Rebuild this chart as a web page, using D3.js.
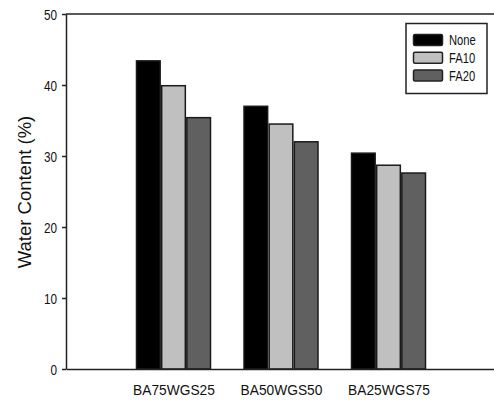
<!DOCTYPE html>
<html>
<head>
<meta charset="utf-8">
<script src="https://cdn.jsdelivr.net/npm/d3@7/dist/d3.min.js"></script>
<style>
  html, body { margin: 0; padding: 0; background: #fff; }
  svg { display: block; font-family: "Liberation Sans", Arial, sans-serif; }
</style>
</head>
<body>
<svg id="chart" width="494" height="400"></svg>
<script>
// Mix designs on the x axis
const categories = ["BA75WGS25", "BA50WGS50", "BA25WGS75"];
// Fly-ash replacement level (legend entries)
const seriesNames = ["None", "FA10", "FA20"];
const seriesColors = ["#000000", "#c0c0c0", "#606060"];
// Water content (%) per mix, one array per series
const valuesNone = [43.4, 37.0, 30.4];
const valuesFA10 = [39.9, 34.5, 28.7];
const valuesFA20 = [35.4, 32.0, 27.6];
const seriesValues = [valuesNone, valuesFA10, valuesFA20];
const yTicks = [0, 10, 20, 30, 40, 50];
const yTitle = "Water Content (%)";

const svg = d3.select("#chart");
const plotLeft = 66, plotRight = 496, plotTop = 14, plotBottom = 369;

const y = d3.scaleLinear().domain([0, 50]).range([plotBottom, plotTop]);
// categories sit at 1, 2, 3 on a 0..4 positional axis
const x = d3.scaleLinear().domain([0, categories.length + 1]).range([plotLeft, plotRight]);
const xs = d3.scaleBand().domain(seriesNames).range([-37, 37]).paddingInner(0.06);

// bars
const groups = svg.append("g").selectAll("g")
  .data(categories)
  .join("g")
  .attr("transform", (d, i) => `translate(${x(i + 1)},0)`);

groups.selectAll("rect")
  .data((d, i) => seriesNames.map((s, k) => ({ s, k, v: seriesValues[k][i] })))
  .join("rect")
  .attr("x", d => xs(d.s))
  .attr("width", xs.bandwidth())
  .attr("y", d => y(d.v))
  .attr("height", d => y(0) - y(d.v))
  .attr("fill", d => seriesColors[d.k])
  .attr("stroke", "#1a1a1a")
  .attr("stroke-width", 1.5);

// frame line along the top, running to the edge
svg.append("line").attr("x1", plotLeft).attr("x2", plotRight).attr("y1", plotTop).attr("y2", plotTop)
  .attr("stroke", "#222").attr("stroke-width", 1.5);

// y axis
const yAxis = svg.append("g")
  .attr("transform", `translate(${plotLeft},0)`)
  .call(d3.axisLeft(y).tickValues(yTicks).tickSize(4).tickSizeOuter(0));
yAxis.select(".domain").attr("stroke", "#222").attr("stroke-width", 1.5);
yAxis.selectAll(".tick line").attr("stroke", "#222").attr("stroke-width", 1.5);
yAxis.selectAll(".tick text")
  .attr("font-size", 14)
  .attr("fill", "#111")
  .attr("x", -9 / 0.84)
  .attr("transform", "scale(0.84,1)")
  .attr("dy", "0.36em");

// x axis (no ticks), labels centred under each group
const xAxis = svg.append("g")
  .attr("transform", `translate(0,${plotBottom})`)
  .call(d3.axisBottom(x).tickValues(categories.map((d, i) => i + 1))
    .tickFormat((d) => categories[d - 1]).tickSize(0).tickSizeOuter(0).tickPadding(16));
xAxis.select(".domain").attr("stroke", "#222").attr("stroke-width", 1.5);
xAxis.selectAll(".tick text")
  .attr("font-size", 14.5)
  .attr("fill", "#111")
  .attr("transform", "scale(0.95,1)");

// y title
svg.append("text")
  .attr("transform", "translate(31,192) rotate(-90)")
  .attr("text-anchor", "middle")
  .attr("font-size", 18.5)
  .attr("fill", "#111")
  .text(yTitle);

// legend
const lg = svg.append("g");
lg.append("rect")
  .attr("x", 406).attr("y", 23.5).attr("width", 81).attr("height", 70)
  .attr("fill", "#fff").attr("stroke", "#222").attr("stroke-width", 1.5);
const items = lg.selectAll("g.item")
  .data(seriesNames)
  .join("g")
  .attr("class", "item")
  .attr("transform", (d, i) => `translate(0,${40 + i * 17.8})`);
items.append("rect")
  .attr("x", 413.5).attr("y", -5.5).attr("width", 29).attr("height", 11)
  .attr("rx", 1.5)
  .attr("fill", (d, i) => seriesColors[i])
  .attr("stroke", "#222").attr("stroke-width", 1.5);
items.append("text")
  .attr("x", 449 / 0.8)
  .attr("transform", "scale(0.8,1)")
  .attr("dy", "0.36em")
  .attr("font-size", 14)
  .attr("fill", "#111")
  .text(d => d);
</script>
</body>
</html>
